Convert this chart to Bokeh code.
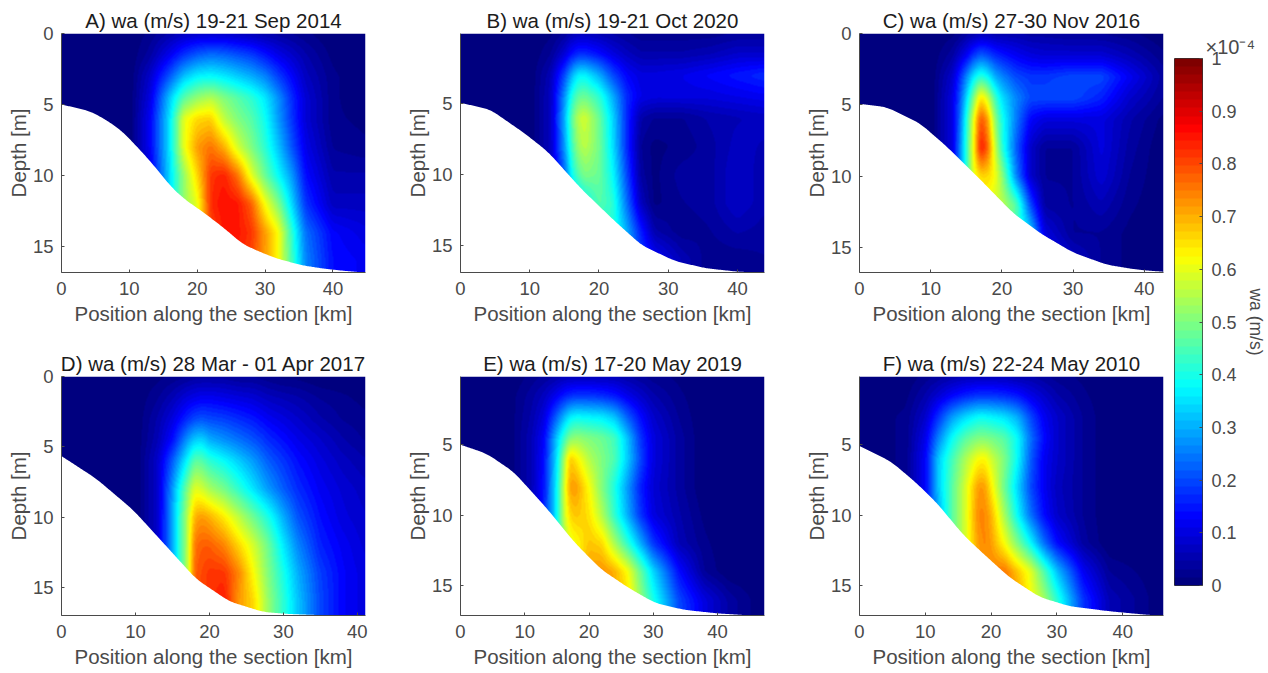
import numpy as np
from bokeh.embed import file_html
from bokeh.resources import INLINE
from bokeh.layouts import row, column
from bokeh.models import Range1d, FixedTicker, LinearColorMapper
from bokeh.plotting import figure

FONT = "Liberation Sans"
DEPTHS = [0, 1.5, 3, 4.5, 6, 8, 10, 12, 14, 16, 17]

titles = ["A) wa (m/s) 19-21 Sep 2014", "B) wa (m/s) 19-21 Oct 2020", "C) wa (m/s) 27-30 Nov 2016",
          "D) wa (m/s) 28 Mar - 01 Apr 2017", "E) wa (m/s) 17-20 May 2019", "F) wa (m/s) 22-24 May 2010"]
x_ticks = [0, 10, 20, 30, 40]
y_ticks_full = [0, 5, 10, 15]
y_ticks_part = [5, 10, 15]
colorbar_ticks = [0, .1, .2, .3, .4, .5, .6, .7, .8, .9, 1]
colorbar_labels = ["0", "0.1", "0.2", "0.3", "0.4", "0.5", "0.6", "0.7", "0.8", "0.9", "1"]

# panel A
A_x = [0, 10, 13, 16, 18, 20, 22, 24, 26, 28, 30, 32, 34, 36, 40, 44.8]
A_wa = [
 [0, 0, .02, .05, .07, .08, .08, .08, .07, .06, .05, .04, .03, .02, 0, 0],
 [0, 0, .04, .12, .18, .22, .24, .23, .21, .19, .15, .11, .08, .05, .01, 0],
 [0, 0, .08, .22, .32, .37, .38, .36, .33, .30, .26, .19, .13, .07, .02, 0],
 [0, 0, .10, .33, .46, .52, .55, .50, .46, .42, .36, .27, .17, .09, .02, 0],
 [0, 0, .12, .36, .60, .66, .67, .56, .50, .46, .39, .28, .18, .09, .02, .01],
 [0, 0, .12, .36, .60, .72, .76, .70, .58, .50, .42, .32, .21, .11, .03, .02],
 [0, 0, .10, .35, .52, .66, .82, .84, .76, .60, .48, .38, .28, .14, .05, .05],
 [0, 0, .10, .35, .52, .60, .83, .86, .85, .78, .62, .50, .34, .18, .07, .07],
 [0, 0, .10, .35, .52, .60, .80, .85, .85, .82, .72, .62, .42, .24, .13, .10],
 [0, 0, .10, .35, .52, .60, .80, .85, .84, .80, .72, .62, .44, .26, .14, .12],
 [0, 0, .10, .35, .52, .60, .80, .85, .84, .80, .72, .62, .44, .26, .14, .12],
]
A_bed_x = [0, 2, 4.4, 7, 9, 12, 14, 16, 18, 21, 24, 26.7, 29, 31.6, 35.5, 39, 42, 44.8]
A_bed_d = [5.0, 5.2, 5.5, 6.2, 6.9, 8.4, 9.5, 10.7, 11.6, 12.6, 13.7, 14.8, 15.3, 15.8, 16.3, 16.55, 16.7, 16.8]

# panel B
B_x = [0, 10, 13, 15, 16, 17, 18, 20, 22, 24, 26, 28, 32, 36, 40, 44]
B_wa = [
 [0, 0, .01, .03, .05, .06, .06, .05, .04, .03, .02, .02, .02, .02, .03, .03],
 [0, 0, .03, .09, .14, .17, .17, .14, .10, .07, .05, .05, .05, .06, .08, .08],
 [0, 0, .06, .20, .30, .37, .37, .30, .20, .13, .10, .10, .11, .13, .15, .17],
 [0, 0, .07, .27, .40, .47, .48, .42, .30, .17, .11, .10, .10, .10, .11, .12],
 [0, 0, .07, .30, .46, .56, .58, .48, .34, .17, .05, .03, .03, .05, .06, .07],
 [0, 0, .07, .28, .43, .53, .56, .49, .35, .17, .03, .01, .02, .04, .07, .06],
 [0, 0, .06, .22, .38, .46, .50, .48, .38, .20, .04, .01, .04, .04, .08, .05],
 [0, 0, .06, .22, .30, .34, .38, .46, .42, .24, .07, .01, .03, .04, .08, .05],
 [0, 0, .06, .22, .30, .34, .38, .40, .42, .30, .16, .05, .02, .03, .05, .04],
 [0, 0, .06, .22, .30, .34, .38, .40, .42, .30, .20, .13, .06, .02, .02, .03],
 [0, 0, .06, .22, .30, .34, .38, .40, .42, .30, .20, .13, .06, .02, .02, .03],
]
B_bed_x = [0, 4.3, 9.2, 12.6, 17.4, 22.3, 26.2, 31, 35.4, 40.2, 44]
B_bed_d = [4.97, 5.45, 7.1, 8.4, 11, 13.3, 15, 16.1, 16.6, 16.85, 16.9]

# panel C
C_x = [0, 10, 13, 14, 15, 16, 17, 18, 19, 20, 22, 24, 26, 30, 34, 38, 42.7]
C_wa = [
 [0, 0, .01, .02, .04, .05, .06, .06, .05, .05, .05, .04, .04, .03, .03, .02, 0],
 [0, 0, .04, .08, .12, .18, .22, .20, .17, .15, .12, .10, .09, .09, .09, .06, .02],
 [0, 0, .08, .16, .26, .36, .42, .38, .30, .26, .20, .18, .18, .20, .20, .12, .04],
 [0, 0, .10, .20, .34, .50, .66, .58, .44, .35, .26, .20, .20, .20, .16, .08, .03],
 [0, 0, .10, .22, .40, .60, .80, .72, .52, .40, .25, .13, .10, .10, .10, .05, .01],
 [0, 0, .10, .24, .42, .62, .86, .78, .58, .42, .22, .08, .03, .03, .10, .04, 0],
 [0, 0, .10, .24, .42, .60, .66, .66, .62, .52, .26, .08, .03, .03, .09, .03, 0],
 [0, 0, .10, .24, .42, .60, .60, .60, .58, .56, .46, .20, .04, .03, .06, .02, 0],
 [0, 0, .10, .24, .42, .60, .60, .60, .58, .50, .45, .34, .10, .03, .03, .01, 0],
 [0, 0, .10, .24, .42, .60, .60, .60, .58, .50, .45, .34, .15, .08, .03, .01, 0],
 [0, 0, .10, .24, .42, .60, .60, .60, .58, .50, .45, .34, .15, .08, .03, .01, 0],
]
C_bed_x = [0, 3.8, 8.5, 12.2, 16.9, 21.6, 25.4, 30, 34.7, 39, 42.7]
C_bed_d = [4.93, 5.16, 6.3, 7.9, 10.2, 12.6, 14, 15.35, 16.2, 16.55, 16.7]

# panel D
D_x = [0, 10, 13, 15, 17, 18, 19, 20, 22, 24, 26, 28, 30, 32, 35, 38, 41]
D_wa = [
 [0, 0, .01, .02, .03, .04, .04, .04, .04, .03, .03, .02, .01, .01, 0, 0, 0],
 [0, 0, .03, .06, .10, .11, .12, .12, .11, .10, .09, .07, .06, .05, .03, .02, .01],
 [0, 0, .05, .10, .17, .20, .21, .20, .19, .17, .15, .12, .10, .08, .05, .03, .02],
 [0, 0, .06, .14, .28, .33, .34, .30, .27, .24, .21, .17, .14, .11, .08, .05, .03],
 [0, 0, .08, .22, .38, .47, .46, .42, .38, .33, .28, .22, .18, .14, .10, .07, .05],
 [0, 0, .08, .28, .50, .60, .58, .54, .49, .42, .35, .28, .22, .17, .12, .09, .07],
 [0, 0, .08, .30, .55, .70, .72, .70, .64, .56, .48, .40, .30, .21, .14, .10, .08],
 [0, 0, .08, .30, .55, .76, .78, .78, .74, .66, .58, .48, .36, .26, .16, .12, .09],
 [0, 0, .08, .30, .55, .78, .80, .82, .82, .74, .62, .50, .40, .30, .19, .13, .10],
 [0, 0, .08, .30, .55, .78, .80, .82, .85, .72, .66, .52, .42, .32, .20, .13, .10],
 [0, 0, .08, .30, .55, .78, .80, .82, .85, .72, .66, .52, .42, .32, .20, .13, .10],
]
D_bed_x = [0, 4.7, 9.7, 13.7, 18.2, 22.7, 27.3, 30.9, 36.7, 41]
D_bed_d = [5.66, 7.27, 9.5, 11.8, 14.4, 16, 16.75, 16.9, 17, 17]

# panel E
E_x = [0, 8, 11, 13, 15, 16, 17, 18, 20, 22, 24, 26, 28, 30, 34, 38, 42, 47.3]
E_wa = [
 [0, 0, .02, .03, .04, .05, .05, .05, .05, .05, .05, .04, .03, .02, .01, 0, 0, 0],
 [0, .01, .04, .07, .12, .15, .17, .18, .18, .17, .15, .11, .08, .05, .02, 0, 0, 0],
 [0, .01, .05, .10, .23, .30, .36, .38, .37, .36, .32, .22, .14, .08, .03, 0, 0, 0],
 [0, .01, .06, .13, .33, .42, .50, .52, .50, .48, .44, .32, .18, .10, .04, 0, 0, 0],
 [0, .01, .06, .14, .36, .52, .68, .64, .55, .50, .45, .33, .20, .10, .04, 0, 0, 0],
 [0, .01, .06, .15, .38, .56, .72, .72, .62, .50, .40, .28, .16, .09, .04, 0, 0, 0],
 [0, .01, .06, .16, .38, .56, .66, .68, .65, .55, .42, .30, .18, .10, .05, .01, 0, 0],
 [0, .01, .06, .16, .38, .52, .60, .62, .68, .66, .54, .42, .30, .18, .06, .02, 0, 0],
 [0, .01, .06, .16, .38, .52, .60, .62, .72, .73, .70, .62, .48, .34, .14, .03, 0, 0],
 [0, .01, .06, .16, .38, .52, .60, .62, .72, .73, .70, .66, .52, .40, .20, .10, .04, 0],
 [0, .01, .06, .16, .38, .52, .60, .62, .72, .73, .70, .66, .52, .40, .20, .10, .04, 0],
]
E_bed_x = [0, 4.1, 8.3, 13.5, 17.7, 21.8, 26, 30.2, 34.8, 40, 45.3, 47.3]
E_bed_d = [5, 5.64, 6.94, 9.55, 11.9, 13.8, 15.1, 16.2, 16.7, 16.95, 17.1, 17.1]

# panel F
F_x = [0, 7, 10, 12, 14, 16, 18, 19, 20, 22, 24, 26, 28, 30, 34, 38, 46.2]
F_wa = [
 [0, 0, .02, .03, .04, .05, .05, .05, .05, .05, .04, .04, .03, .02, .01, 0, 0],
 [0, .01, .05, .09, .13, .16, .18, .18, .18, .17, .15, .11, .08, .05, .02, 0, 0],
 [0, .02, .08, .18, .28, .34, .38, .38, .37, .35, .30, .20, .12, .08, .03, 0, 0],
 [0, .02, .11, .26, .38, .46, .50, .50, .49, .46, .38, .24, .14, .08, .03, 0, 0],
 [0, .02, .13, .33, .44, .54, .62, .63, .58, .50, .38, .22, .12, .08, .03, 0, 0],
 [0, .02, .13, .33, .46, .58, .72, .72, .64, .48, .34, .20, .12, .07, .03, 0, 0],
 [0, .02, .13, .30, .46, .58, .74, .74, .70, .54, .38, .24, .14, .08, .03, 0, 0],
 [0, .02, .10, .26, .46, .58, .72, .74, .72, .62, .50, .38, .24, .14, .04, 0, 0],
 [0, .02, .10, .26, .46, .58, .70, .72, .74, .76, .68, .60, .46, .32, .12, .03, 0],
 [0, .02, .10, .26, .46, .58, .70, .72, .74, .76, .72, .62, .54, .42, .18, .06, 0],
 [0, .02, .10, .26, .46, .58, .70, .72, .74, .76, .72, .62, .54, .42, .18, .06, 0],
]
F_bed_x = [0, 4.8, 8.6, 11.7, 15.7, 18.3, 22.8, 27.4, 32, 38, 43.7, 46.2]
F_bed_d = [5.1, 6.2, 7.7, 9.1, 11.35, 12.5, 14.4, 15.8, 16.45, 16.8, 17.05, 17.1]

x_max = [44.8, 43.9, 42.7, 41.1, 47.3, 46.2]
y_min = [0, 0.1, 0, 0, 0.17, 0.17]
y_max = [16.8, 16.9, 16.75, 17.0, 17.1, 17.1]


def jet(n=64):
    out = []
    for i in range(n):
        v = i / (n - 1)
        r = np.clip(min(4 * v - 1.5, -4 * v + 4.5), 0, 1)
        g = np.clip(min(4 * v - 0.5, -4 * v + 3.5), 0, 1)
        b = np.clip(min(4 * v + 0.5, -4 * v + 2.5), 0, 1)
        out.append("#%02x%02x%02x" % (int(r * 255), int(g * 255), int(b * 255)))
    return out


PAL = jet()
mapper = LinearColorMapper(palette=PAL, low=0, high=1)
FW, FH = 304, 239
AX = "#4a4a4a"


def shade(xs, wa, xm, y0, y1, blur=5):
    """Display shading of the read grid, like MATLAB's interpolated shading."""
    wa = np.array(wa, dtype=float)
    gx = np.linspace(0, xm, FW)
    gy = np.linspace(y0, y1, FH)
    tmp = np.array([np.interp(gx, xs, r) for r in wa])
    z = np.array([np.interp(gy, DEPTHS, tmp[:, j]) for j in range(FW)]).T
    k = np.ones(blur) / blur
    pad = blur
    for _ in range(2):
        zz = np.pad(z, pad, mode="edge")
        zz = np.apply_along_axis(lambda m: np.convolve(m, k, mode="same"), 0, zz)
        zz = np.apply_along_axis(lambda m: np.convolve(m, k, mode="same"), 1, zz)
        z = zz[pad:-pad, pad:-pad]
    return z


def rounded_bed(bx, bd, xm):
    gx = np.linspace(0, xm, 300)
    gd = np.interp(gx, bx, bd)
    w = 15
    k = np.ones(w) / w
    s = np.convolve(np.pad(gd, w, mode="edge"), k, mode="same")[w:-w]
    s[:w // 2] = gd[:w // 2]
    s[-(w // 2):] = gd[-(w // 2):]
    return gx, s


def panel(i, xs, wa, bx, bd, y_ticks, w, top, bottom, right):
    xm, y0, y1 = x_max[i], y_min[i], y_max[i]
    p = figure(width=w, height=top + FH + bottom, frame_width=FW, frame_height=FH,
               x_range=Range1d(0, xm), y_range=Range1d(y1, y0),
               output_backend="svg", toolbar_location=None, title=titles[i],
               min_border_left=61, min_border_right=right, min_border_top=top, min_border_bottom=bottom)
    z = shade(xs, wa, xm, y0, y1)
    p.image(image=[z], x=0, y=y0, dw=xm, dh=y1 - y0, color_mapper=mapper)
    gx, gd = rounded_bed(bx, bd, xm)
    p.varea(x=gx, y1=gd, y2=np.full_like(gd, y1 + 1), fill_color="white")
    p.grid.visible = False
    p.outline_line_color = None
    p.background_fill_color = "white"
    p.title.align = "center"
    p.title.text_font = FONT
    p.title.text_font_size = "20.5px"
    p.title.text_font_style = "normal"
    p.title.text_color = "#1c1c1c"
    p.title.offset = 0
    p.title.standoff = 3
    p.xaxis.axis_label = "Position along the section [km]"
    p.yaxis.axis_label = "Depth [m]"
    p.xaxis.ticker = FixedTicker(ticks=x_ticks)
    p.yaxis.ticker = FixedTicker(ticks=y_ticks)
    for a in (p.xaxis[0], p.yaxis[0]):
        a.axis_label_text_font = FONT
        a.axis_label_text_font_size = "20.5px"
        a.axis_label_text_font_style = "normal"
        a.axis_label_text_color = AX
        a.major_label_text_font = FONT
        a.major_label_text_font_size = "18.5px"
        a.major_label_text_color = AX
        a.axis_line_color = AX
        a.major_tick_line_color = AX
        a.major_tick_in = 3
        a.major_tick_out = 0
        a.minor_tick_line_color = None
    p.xaxis.axis_label_standoff = 4
    p.xaxis.major_label_standoff = 9
    p.yaxis.axis_label_standoff = 0
    p.yaxis.major_label_standoff = 8
    p.yaxis.major_label_orientation = "horizontal"
    return p


T1, B1, T2, B2 = 33, 64, 40, 57
pA = panel(0, A_x, A_wa, A_bed_x, A_bed_d, y_ticks_full, 399, T1, B1, 34)
pB = panel(1, B_x, B_wa, B_bed_x, B_bed_d, y_ticks_part, 399, T1, B1, 34)
pC = panel(2, C_x, C_wa, C_bed_x, C_bed_d, y_ticks_full, 372, T1, B1, 7)
pD = panel(3, D_x, D_wa, D_bed_x, D_bed_d, y_ticks_full, 399, T2, B2, 34)
pE = panel(4, E_x, E_wa, E_bed_x, E_bed_d, y_ticks_part, 399, T2, B2, 34)
pF = panel(5, F_x, F_wa, F_bed_x, F_bed_d, y_ticks_part, 372, T2, B2, 7)

# colour bar
cb = figure(width=98, height=672, frame_width=28, frame_height=527,
            x_range=Range1d(0, 1), y_range=Range1d(0, 1),
            output_backend="svg", toolbar_location=None,
            x_axis_location=None, y_axis_location="right", title="×10⁻⁴",
            min_border_left=4, min_border_right=66, min_border_top=58, min_border_bottom=87)
cb.image(image=[np.linspace(0, 1, 64).reshape(64, 1)], x=0, y=0, dw=1, dh=1, color_mapper=mapper)
cb.grid.visible = False
cb.outline_line_color = "#333333"
cb.title.align = "left"
cb.title.offset = 31
cb.title.standoff = 1
cb.title.text_font = FONT
cb.title.text_font_size = "20px"
cb.title.text_font_style = "normal"
cb.title.text_color = AX
ax = cb.yaxis[0]
ax.ticker = FixedTicker(ticks=colorbar_ticks)
ax.major_label_overrides = {t: l for t, l in zip(colorbar_ticks, colorbar_labels)}
ax.major_label_text_font = FONT
ax.major_label_text_font_size = "18px"
ax.major_label_text_color = AX
ax.axis_line_color = None
ax.major_tick_line_color = AX
ax.major_tick_in = 3
ax.major_tick_out = 0
ax.minor_tick_line_color = None
ax.major_label_standoff = 9
ax.axis_label = "wa (m/s)"
ax.axis_label_orientation = "vertical"
ax.axis_label_text_font = FONT
ax.axis_label_text_font_size = "17.5px"
ax.axis_label_text_font_style = "normal"
ax.axis_label_text_color = AX
ax.axis_label_standoff = 6

page = row(column(row(pA, pB, pC), row(pD, pE, pF), spacing=0), cb, spacing=0)
open("out.html", "w").write(file_html(page, INLINE))
